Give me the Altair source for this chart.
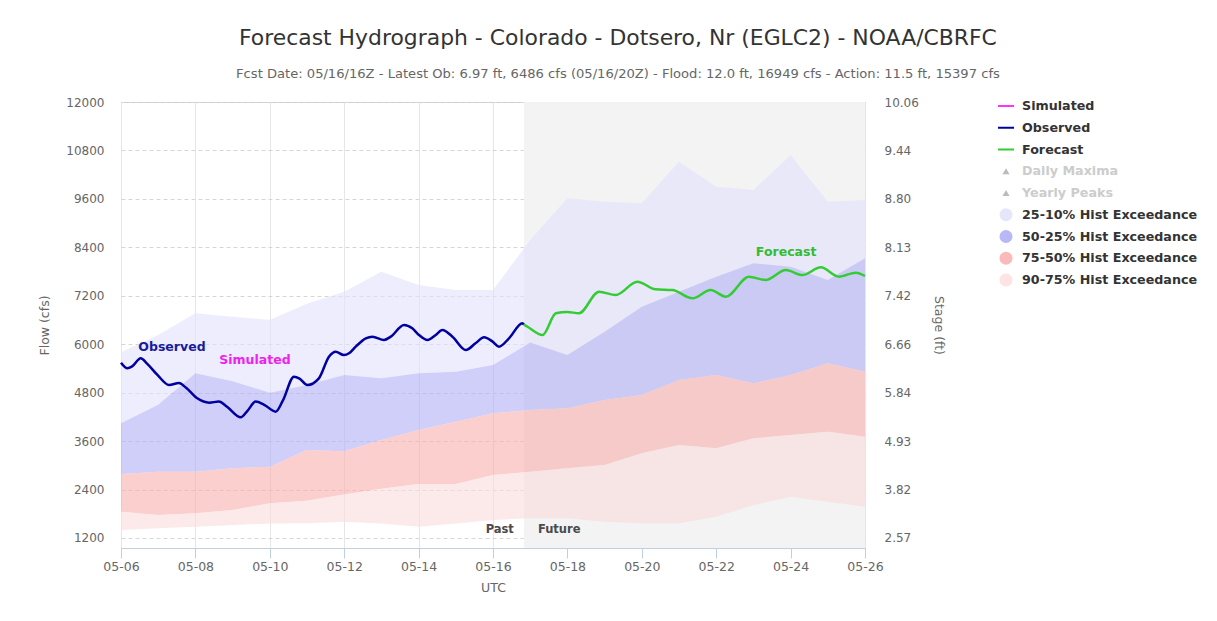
import altair as alt
import pandas as pd

FONT = "DejaVu Sans"
BASE = pd.Timestamp("2016-05-06 00:00")

# ---------------- data ----------------
band_days = list(range(21))  # daily points 05-06 .. 05-26
p10 = [5800, 6230, 6766, 6680, 6600, 7000, 7300, 7798, 7467, 7343, 7343, 8581,
       9613, 9531, 9490, 10522, 9902, 9820, 10687, 9531, 9572]
p25 = [4041, 4500, 5279, 5080, 4800, 4990, 5238, 5155, 5279, 5320, 5486, 6040,
       5733, 6311, 6930, 7302, 7673, 8004, 7921, 7591, 8127]
p50 = [2786, 2843, 2843, 2926, 2967, 3380, 3350, 3628, 3876, 4082, 4288, 4371,
       4412, 4618, 4742, 5113, 5237, 5031, 5237, 5526, 5320]
p75 = [1853, 1770, 1811, 1894, 2059, 2120, 2280, 2420, 2540, 2540, 2760, 2840,
       2925, 3008, 3297, 3503, 3420, 3668, 3751, 3834, 3710]
p90 = [1400, 1440, 1480, 1520, 1560, 1563, 1600, 1560, 1480, 1560, 1645, 1690,
       1687, 1604, 1563, 1563, 1728, 2017, 2223, 2100, 1976]

band_names = ["25-10% Hist Exceedance", "50-25% Hist Exceedance",
              "75-50% Hist Exceedance", "90-75% Hist Exceedance"]
band_colors = ["#e1e1fc", "#afaff7", "#faafaf", "#fadada"]

obs_days = [0.00, 0.17, 0.30, 0.53, 0.70, 0.98, 1.29, 1.56, 1.75, 2.05, 2.37, 2.63,
            2.85, 3.22, 3.40, 3.62, 3.85, 4.16, 4.35, 4.65, 4.80, 5.01, 5.32, 5.59,
            5.77, 5.99, 6.13, 6.31, 6.58, 6.76, 7.07, 7.25, 7.61, 7.83, 8.01, 8.24,
            8.46, 8.64, 8.91, 9.27, 9.53, 9.76, 9.99, 10.16, 10.43, 10.79, 10.83]
obs_flow = [5540, 5403, 5450, 5651, 5520, 5238, 4990, 5040, 4920, 4660, 4553, 4578,
            4450, 4189, 4350, 4578, 4500, 4330, 4600, 5197, 5150, 4990, 5155, 5692,
            5816, 5733, 5775, 5940, 6146, 6187, 6105, 6187, 6477, 6394, 6229, 6105,
            6229, 6353, 6187, 5857, 6022, 6171, 6064, 5940, 6146, 6520, 6486]

fc_days = [10.83, 10.95, 11.33, 11.69, 12.00, 12.31, 12.85, 13.30, 13.88, 14.37,
           14.82, 15.36, 15.85, 16.26, 16.88, 17.33, 17.87, 18.32, 18.81, 19.30,
           19.75, 20.00]
fc_flow = [6486, 6420, 6228, 6765, 6800, 6765, 7302, 7219, 7549, 7359,
           7343, 7137, 7343, 7178, 7673, 7591, 7838, 7714, 7904, 7673,
           7772, 7690]

label_text = ["Observed", "Simulated", "Forecast"]
label_days = [1.37, 3.60, 17.88]
label_flow = [5939, 5610, 8284]
label_colors = ["#1a1a9c", "#ee22ee", "#33bb33"]

future_start = 10.83
end_day = 20
past_future_flow = 1400

flow_ticks = [1200, 2400, 3600, 4800, 6000, 7200, 8400, 9600, 10800, 12000]
stage_labels = ["2.57", "3.82", "4.93", "5.84", "6.66", "7.42", "8.13", "8.80", "9.44", "10.06"]
x_tick_days = list(range(6, 27, 2))

legend_labels = ["Simulated", "Observed", "Forecast", "Daily Maxima", "Yearly Peaks"] + band_names
legend_shapes = ["stroke", "stroke", "stroke", "triangle-up", "triangle-up",
                 "circle", "circle", "circle", "circle"]
legend_sym_colors = ["#ff33ff", "#0000a0", "#33cc33", "#bbbbbb", "#bbbbbb",
                     "#e6e6fb", "#b8b8f6", "#fbbaba", "#fde3e3"]
legend_text_colors = ["#333333"] * 3 + ["#cccccc"] * 2 + ["#333333"] * 4


def ts(d):
    return BASE + pd.to_timedelta(d, unit="D")


# ---------------- tables ----------------
tops = [p10, p25, p50, p75]
bots = [p25, p50, p75, p90]
rows = []
for name, top, bot in zip(band_names, tops, bots):
    for d, hi, lo in zip(band_days, top, bot):
        rows.append({"t": ts(d), "lo": lo, "hi": hi, "band": name})
bands_df = pd.DataFrame(rows)

obs_df = pd.DataFrame({"t": [ts(d) for d in obs_days], "flow": obs_flow})
fc_df = pd.DataFrame({"t": [ts(d) for d in fc_days], "flow": fc_flow})
lab_df = pd.DataFrame({"t": [ts(d) for d in label_days], "flow": label_flow,
                       "text": label_text, "color": label_colors})
fut_df = pd.DataFrame({"t": [ts(future_start)], "t2": [ts(end_day)],
                       "flow": [past_future_flow]})
leg_df = pd.DataFrame({"label": legend_labels, "shape": legend_shapes,
                       "sym": legend_sym_colors, "tc": legend_text_colors})

# ---------------- scales / axes ----------------
W, H = 744, 446
x_axis = alt.Axis(values=[alt.DateTime(year=2016, month=5, date=d) for d in x_tick_days],
                  format="%m-%d", title="UTC", grid=True, gridColor="#e6e6e6",
                  domainColor="#c0d0e0", tickColor="#c0d0e0", tickSize=10,
                  labelPadding=2, labelColor="#666666", labelFontSize=12.5, labelFlush=False,
                  labelOverlap=False, labelAngle=0, titleColor="#666666",
                  titleFontSize=12.5, titleFontWeight="normal", titlePadding=9)
x_scale = alt.Scale(domain=[alt.DateTime(year=2016, month=5, date=6),
                            alt.DateTime(year=2016, month=5, date=26)])
X = alt.X("t:T", scale=x_scale, axis=x_axis)

y_scale = alt.Scale(domain=[952, 12000], nice=False, zero=False)
left_axis = alt.Axis(values=flow_ticks, format="d", title="Flow (cfs)", grid=True,
                     gridDash=[4, 3], gridColor="#d6d6d6", ticks=False, domain=False,
                     labelPadding=17, labelColor="#666666", labelFontSize=12,
                     titleColor="#666666", titleFontSize=12.5, titleFontWeight="normal",
                     titlePadding=14)
stage_expr = " : ".join(f"datum.value == {f} ? '{s}'" for f, s in zip(flow_ticks, stage_labels)) + " : ''"
right_axis = alt.Axis(orient="right", values=flow_ticks, labelExpr=stage_expr,
                      title="Stage (ft)", grid=False, ticks=False, domain=False,
                      labelPadding=19, labelColor="#666666", labelFontSize=12,
                      titleColor="#666666", titleFontSize=12.5, titleFontWeight="normal",
                      titlePadding=13)

future = alt.Chart(fut_df).mark_rect(color="#f3f3f3").encode(x=X, x2="t2:T")
bands = alt.Chart(bands_df).mark_area(opacity=0.6).encode(
    x=X,
    y=alt.Y("lo:Q", scale=y_scale, axis=left_axis),
    y2="hi:Q",
    color=alt.Color("band:N", scale=alt.Scale(domain=band_names, range=band_colors), legend=None),
)
obs = alt.Chart(obs_df).mark_line(color="#0000a0", strokeWidth=2.5, interpolate="monotone").encode(
    x=X, y=alt.Y("flow:Q", scale=y_scale))
labels = alt.Chart(lab_df).mark_text(fontSize=12.5, fontWeight="bold", font=FONT).encode(
    x=X, y=alt.Y("flow:Q", scale=y_scale), text="text:N", color=alt.Color("color:N", scale=None))
past_t = alt.Chart(fut_df).mark_text(text="Past", align="right", dx=-10, fontSize=11.5,
                                     fontWeight="bold", color="#4a4a4a", font=FONT).encode(
    x=X, y=alt.Y("flow:Q", scale=y_scale))
future_t = alt.Chart(fut_df).mark_text(text="Future", align="left", dx=14, fontSize=11.5,
                                       fontWeight="bold", color="#4a4a4a", font=FONT).encode(
    x=X, y=alt.Y("flow:Q", scale=y_scale))

inner = alt.layer(future, bands, obs, labels, past_t, future_t)
fc = alt.Chart(fc_df).mark_line(color="#33cc33", strokeWidth=2.5, interpolate="monotone").encode(
    x=X, y=alt.Y("flow:Q", scale=y_scale, axis=right_axis))

main = alt.layer(inner, fc).resolve_scale(y="independent").properties(width=W, height=H)

# ---------------- legend panel ----------------
LY = alt.Y("label:N", sort=legend_labels, axis=None,
           scale=alt.Scale(range=[4, 178], padding=0))
leg_lines = alt.Chart(leg_df).transform_filter("datum.shape == 'stroke'").mark_point(
    filled=False, strokeWidth=2, size=256, opacity=1).encode(
    y=LY, x=alt.value(10), shape=alt.Shape("shape:N", scale=None),
    color=alt.Color("sym:N", scale=None))
leg_syms = alt.Chart(leg_df).transform_filter("datum.shape != 'stroke'").mark_point(
    filled=True, opacity=1).encode(
    y=LY, x=alt.value(10), shape=alt.Shape("shape:N", scale=None),
    color=alt.Color("sym:N", scale=None),
    size=alt.condition("datum.shape == 'circle'", alt.value(170), alt.value(50)))
leg_text = alt.Chart(leg_df).mark_text(align="left", fontSize=12.7, fontWeight="bold",
                                       font=FONT).encode(
    y=LY, x=alt.value(26), text="label:N", color=alt.Color("tc:N", scale=None))
legend = alt.layer(leg_lines, leg_syms, leg_text).properties(
    width=200, height=300, view=alt.ViewBackground(stroke="transparent"))

chart = alt.hconcat(main, legend, spacing=48).properties(
    title=alt.TitleParams(
        text="Forecast Hydrograph - Colorado - Dotsero, Nr (EGLC2) - NOAA/CBRFC",
        subtitle="Fcst Date: 05/16/16Z - Latest Ob: 6.97 ft, 6486 cfs (05/16/20Z) - Flood: 12.0 ft, 16949 cfs - Action: 11.5 ft, 15397 cfs",
        anchor="middle", fontSize=21.9, fontWeight="normal", color="#333333",
        subtitleFontSize=13.1, subtitleColor="#666666", subtitlePadding=19, offset=13,
        font=FONT, subtitleFont=FONT),
    padding={"left": 30, "top": 18, "right": 5, "bottom": 5},
).configure(font=FONT).configure_view(stroke="#cccccc")

chart.save("out.html", embed_options={"renderer": "svg", "actions": False})
